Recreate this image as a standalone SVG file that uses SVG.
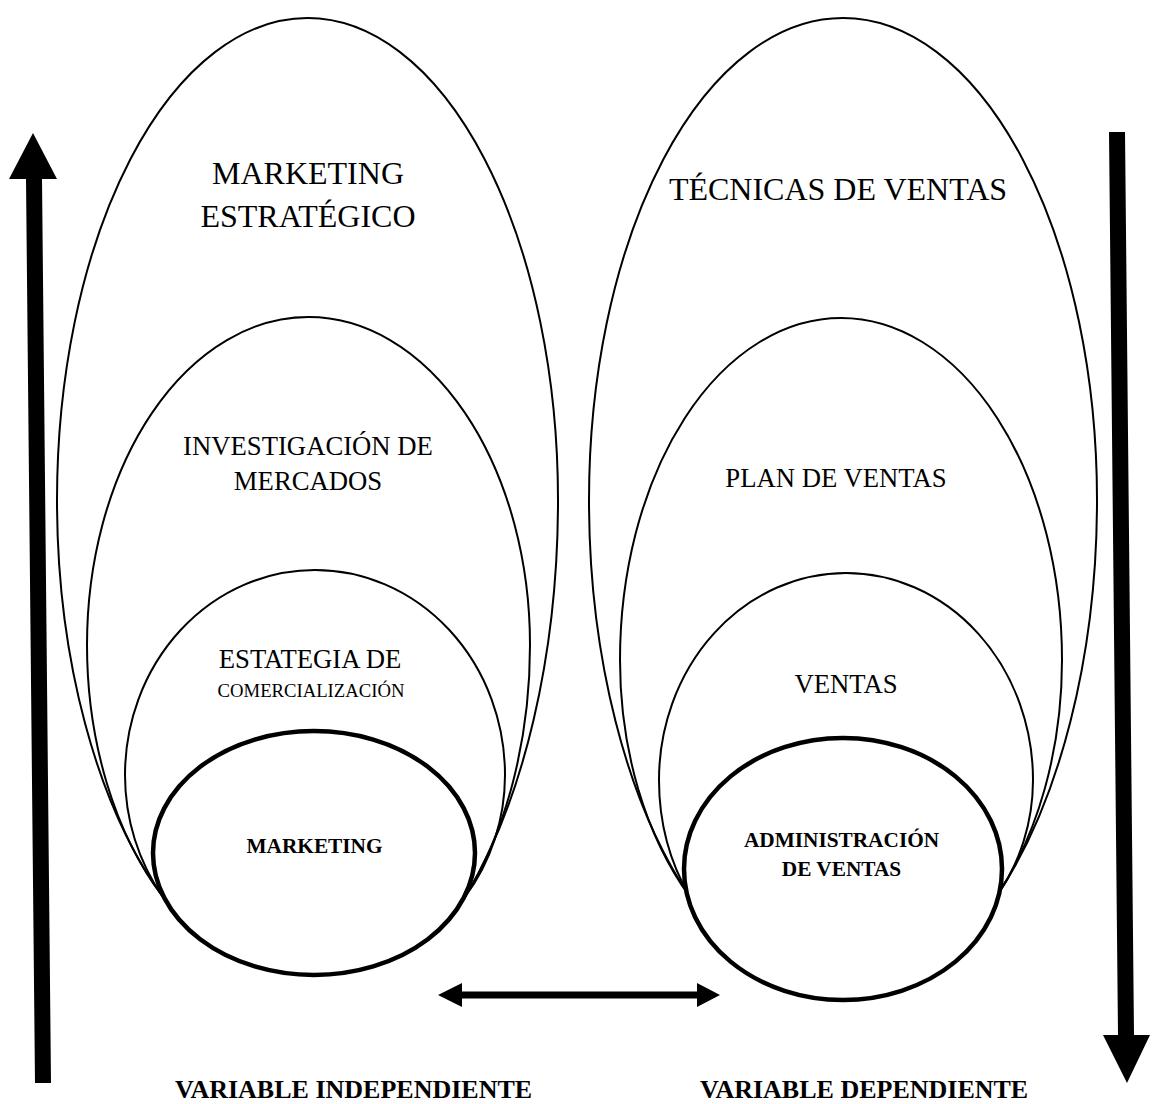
<svg xmlns="http://www.w3.org/2000/svg" width="1159" height="1104" viewBox="0 0 1159 1104">
  <style>
    .ring { fill: none; stroke: #000; stroke-width: 2; }
    .core { fill: #fff; stroke: #000; stroke-width: 4.5; }
    .t { font-family: "Liberation Serif", "Times New Roman", serif; fill: #000; text-anchor: middle; }
    .big { font-size: 32px; }
    .mid { font-size: 26.7px; }
    .small { font-size: 18.7px; }
    .bold { font-weight: bold; font-size: 21.3px; }
    .label { font-weight: bold; font-size: 26px; text-anchor: start; }
    .arrow { fill: #000; }
  </style>
  <rect width="1159" height="1104" fill="#fff"/>

  <!-- left column: independent variable -->
  <g id="marketing-estrategico">
    <path class="ring" d="M163,897 A250.5,486 0 0 1 57,500 A250.5,482 0 0 1 307.5,18 A250.5,482 0 0 1 558,500 A250.5,510.5 0 0 1 465,897"/>
    <text class="t big" x="308" y="184">MARKETING</text>
    <text class="t big" x="308" y="227">ESTRATÉGICO</text>
  </g>
  <g id="investigacion-de-mercados">
    <path class="ring" d="M163,897 A221.5,334.2 0 0 1 87,645 A221.5,328 0 0 1 308.5,317 A221.5,328 0 0 1 530,645 A221.5,356.1 0 0 1 465,897"/>
    <text class="t mid" x="308" y="455">INVESTIGACIÓN DE</text>
    <text class="t mid" x="308" y="490">MERCADOS</text>
  </g>
  <g id="estrategia-de-comercializacion">
    <path class="ring" d="M163,897 A190,203.3 0 0 1 125,775 A190,205 0 0 1 315,570 A190,205 0 0 1 505,775 A190,198.8 0 0 1 465,897"/>
    <text class="t mid" x="310" y="668">ESTATEGIA DE</text>
    <text class="t small" x="311" y="697">COMERCIALIZACIÓN</text>
  </g>
  <g id="marketing">
    <ellipse class="core" cx="314" cy="853" rx="161" ry="122"/>
    <text class="t bold" x="314.5" y="853">MARKETING</text>
  </g>

  <!-- right column: dependent variable -->
  <g id="tecnicas-de-ventas">
    <path class="ring" d="M690,897 A254,497.4 0 0 1 589,500 A254,482 0 0 1 843,18 A254,482 0 0 1 1097,500 A254,497.4 0 0 1 996,897"/>
    <text class="t big" x="838" y="200">TÉCNICAS DE VENTAS</text>
  </g>
  <g id="plan-de-ventas">
    <path class="ring" d="M690,897 A221,324.6 0 0 1 620,660 A221,342 0 0 1 841,318 A221,342 0 0 1 1062,660 A221,332.5 0 0 1 996,897"/>
    <text class="t mid" x="836" y="487">PLAN DE VENTAS</text>
  </g>
  <g id="ventas">
    <path class="ring" d="M690,897 A187,212.2 0 0 1 659,780 A187,207 0 0 1 846,573 A187,207 0 0 1 1033,780 A187,195.9 0 0 1 996,897"/>
    <text class="t mid" x="846" y="693">VENTAS</text>
  </g>
  <g id="administracion-de-ventas">
    <ellipse class="core" cx="843" cy="869" rx="159" ry="131"/>
    <text class="t bold" x="841.5" y="847">ADMINISTRACIÓN</text>
    <text class="t bold" x="841.5" y="876">DE VENTAS</text>
  </g>

  <!-- connectors -->
  <g id="connectors">
    <polygon class="arrow" points="35,1083 51,1083 42,179 57,179 33,133 9,179 26,179"/>
    <polygon class="arrow" points="1109,132 1125,132 1134,1035 1150,1035 1127,1083 1103,1035 1118,1035"/>
    <polygon class="arrow" points="438,995 462,983 462,991.5 697,991.5 697,983 720,995 697,1007 697,998.5 462,998.5 462,1007"/>
  </g>

  <g id="captions">
    <text class="t label" x="175" y="1098">VARIABLE INDEPENDIENTE</text>
    <text class="t label" x="700" y="1098">VARIABLE DEPENDIENTE</text>
  </g>
</svg>
